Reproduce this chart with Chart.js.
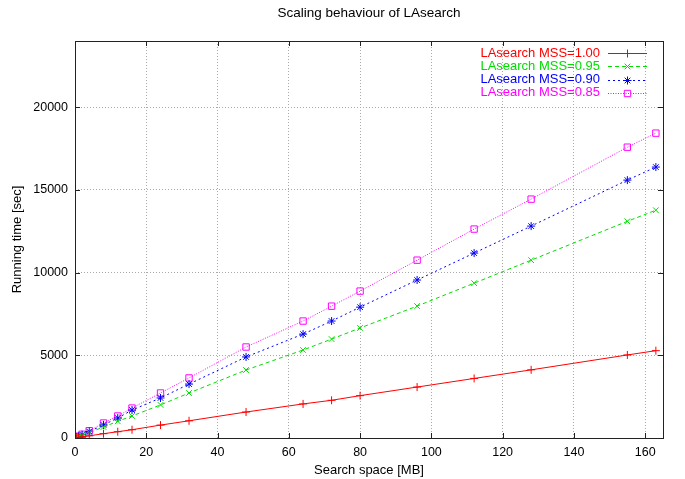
<!DOCTYPE html>
<html>
<head>
<script src="https://cdn.jsdelivr.net/npm/chart.js@4.4.0/dist/chart.umd.min.js"></script>
<style>
  html, body { margin: 0; padding: 0; background: #fff; }
  #wrap { width: 685px; height: 479px; }
</style>
</head>
<body>
<div id="wrap"><canvas id="chart" width="685" height="479"></canvas></div>
<script>
// search space sizes [MB]
var sizes = [0.5, 1, 2, 4, 8, 12, 16, 24, 32, 48, 64, 72, 80, 96, 112, 128, 155, 163];

// running time [sec]
var mss100 = [16, 32, 65, 130, 260, 380, 500, 780, 1040, 1570, 2060, 2280, 2560, 3080, 3600, 4120, 5020, 5280];
var mss095 = [45, 85, 170, 330, 665, 1010, 1330, 2000, 2720, 4110, 5320, 5980, 6650, 7975, 9360, 10750, 13100, 13770];
var mss090 = [50, 100, 200, 390, 790, 1210, 1690, 2420, 3260, 4900, 6280, 7070, 7910, 9550, 11180, 12810, 15590, 16380];
var mss085 = [55, 110, 225, 440, 905, 1330, 1810, 2720, 3630, 5500, 7070, 7970, 8880, 10750, 12630, 14440, 17580, 18430];

var labels = ['LAsearch MSS=1.00', 'LAsearch MSS=0.95', 'LAsearch MSS=0.90', 'LAsearch MSS=0.85'];

var xTicks = [0, 20, 40, 60, 80, 100, 120, 140, 160];
var yTicks = [0, 5000, 10000, 15000, 20000];

var FONT = 'Liberation Sans, Arial, Helvetica, sans-serif';

function pts(ys) {
    return sizes.map(function (x, i) { return {x: x, y: ys[i]}; });
}

function series(label, ys, color, dash, style, r) {
    return {
        label: label,
        data: pts(ys),
        borderColor: color,
        backgroundColor: 'rgba(0,0,0,0)',
        borderWidth: 1,
        borderDash: dash,
        pointStyle: style,
        pointRadius: r,
        pointHoverRadius: r,
        pointBorderWidth: 1,
        pointBorderColor: color,
        pointBackgroundColor: 'rgba(0,0,0,0)',
        tension: 0,
        fill: false
    };
}

// gnuplot-like frame, inward ticks, title and key
var frame = {
    id: 'frame',
    afterDraw: function (chart) {
        var ctx = chart.ctx, a = chart.chartArea;
        var xs = chart.scales.x, ys = chart.scales.y;
        ctx.save();
        ctx.strokeStyle = '#222';
        ctx.lineWidth = 1;
        ctx.setLineDash([]);
        ctx.strokeRect(Math.round(a.left) + 0.5, Math.round(a.top) + 0.5,
            Math.round(a.right - a.left), Math.round(a.bottom - a.top));
        ctx.beginPath();
        xTicks.forEach(function (v) {
            var px = Math.round(xs.getPixelForValue(v)) + 0.5;
            ctx.moveTo(px, a.bottom); ctx.lineTo(px, a.bottom - 5);
            ctx.moveTo(px, a.top); ctx.lineTo(px, a.top + 5);
        });
        yTicks.forEach(function (v) {
            var py = Math.round(ys.getPixelForValue(v)) + 0.5;
            ctx.moveTo(a.left, py); ctx.lineTo(a.left + 5, py);
            ctx.moveTo(a.right, py); ctx.lineTo(a.right - 5, py);
        });
        ctx.stroke();

        // title centred over the plot area
        ctx.fillStyle = '#000';
        ctx.font = '13.5px ' + FONT;
        ctx.textAlign = 'center';
        ctx.textBaseline = 'middle';
        ctx.fillText(chart.options.plugins.title.text, (a.left + a.right) / 2, 13);

        // key, top right inside the plot
        ctx.font = '13px ' + FONT;
        ctx.textAlign = 'right';
        chart.data.datasets.forEach(function (ds, i) {
            var y = 53 + i * 13.3;
            ctx.fillStyle = ds.borderColor;
            ctx.fillText(ds.label, 600, y);
            ctx.strokeStyle = ds.borderColor;
            ctx.setLineDash(ds.borderDash);
            ctx.beginPath();
            ctx.moveTo(608, Math.round(y) + 0.5);
            ctx.lineTo(647, Math.round(y) + 0.5);
            ctx.stroke();
            ctx.setLineDash([]);
            ctx.fillStyle = 'rgba(0,0,0,0)';
            if (Chart.helpers && Chart.helpers.drawPoint) {
                Chart.helpers.drawPoint(ctx, {
                    pointStyle: ds.pointStyle, radius: ds.pointRadius, rotation: 0, borderWidth: 1
                }, 627.5, Math.round(y) + 0.5);
            }
        });
        ctx.restore();
    }
};

new Chart(document.getElementById('chart'), {
    type: 'scatter',
    data: {
        datasets: [
            series(labels[0], mss100, '#ff0000', [], 'cross', 4),
            series(labels[1], mss095, '#00dd00', [4, 3], 'crossRot', 4),
            series(labels[2], mss090, '#0000ff', [2, 3], 'star', 4),
            series(labels[3], mss085, '#ff00ff', [1, 1.5], 'rect', 4.5)
        ]
    },
    options: {
        responsive: false,
        animation: false,
        showLine: true,
        layout: { padding: { top: 41, right: 22, left: 0, bottom: 0 } },
        plugins: {
            legend: { display: false },
            tooltip: { enabled: false },
            title: { display: false, text: 'Scaling behaviour of LAsearch' }
        },
        scales: {
            x: {
                type: 'linear',
                min: 0,
                max: 165,
                afterBuildTicks: function (s) { s.ticks = xTicks.map(function (v) { return {value: v}; }); },
                afterFit: function (s) { s.height = 41; },
                grid: { color: '#aaaaaa', lineWidth: 1, drawTicks: false },
                border: { display: false, dash: [1, 2] },
                ticks: {
                    color: '#000', padding: 7, maxRotation: 0, font: { family: FONT, size: 12.5 },
                    callback: function (v) { return String(v); }
                },
                title: {
                    display: true, text: 'Search space [MB]', color: '#000',
                    font: { family: FONT, size: 13 }, padding: { top: 0, bottom: 1 }
                }
            },
            y: {
                type: 'linear',
                min: 0,
                max: 24000,
                afterBuildTicks: function (s) { s.ticks = yTicks.map(function (v) { return {value: v}; }); },
                afterFit: function (s) { s.width = 75; },
                grid: { color: '#aaaaaa', lineWidth: 1, drawTicks: false },
                border: { display: false, dash: [1, 2] },
                ticks: {
                    color: '#000', padding: 7, font: { family: FONT, size: 12.5 },
                    callback: function (v) { return String(v); }
                },
                title: {
                    display: true, text: 'Running time [sec]', color: '#000',
                    font: { family: FONT, size: 13 }, padding: { top: 10, bottom: 0 }
                }
            }
        }
    },
    plugins: [frame]
});
</script>
</body>
</html>
